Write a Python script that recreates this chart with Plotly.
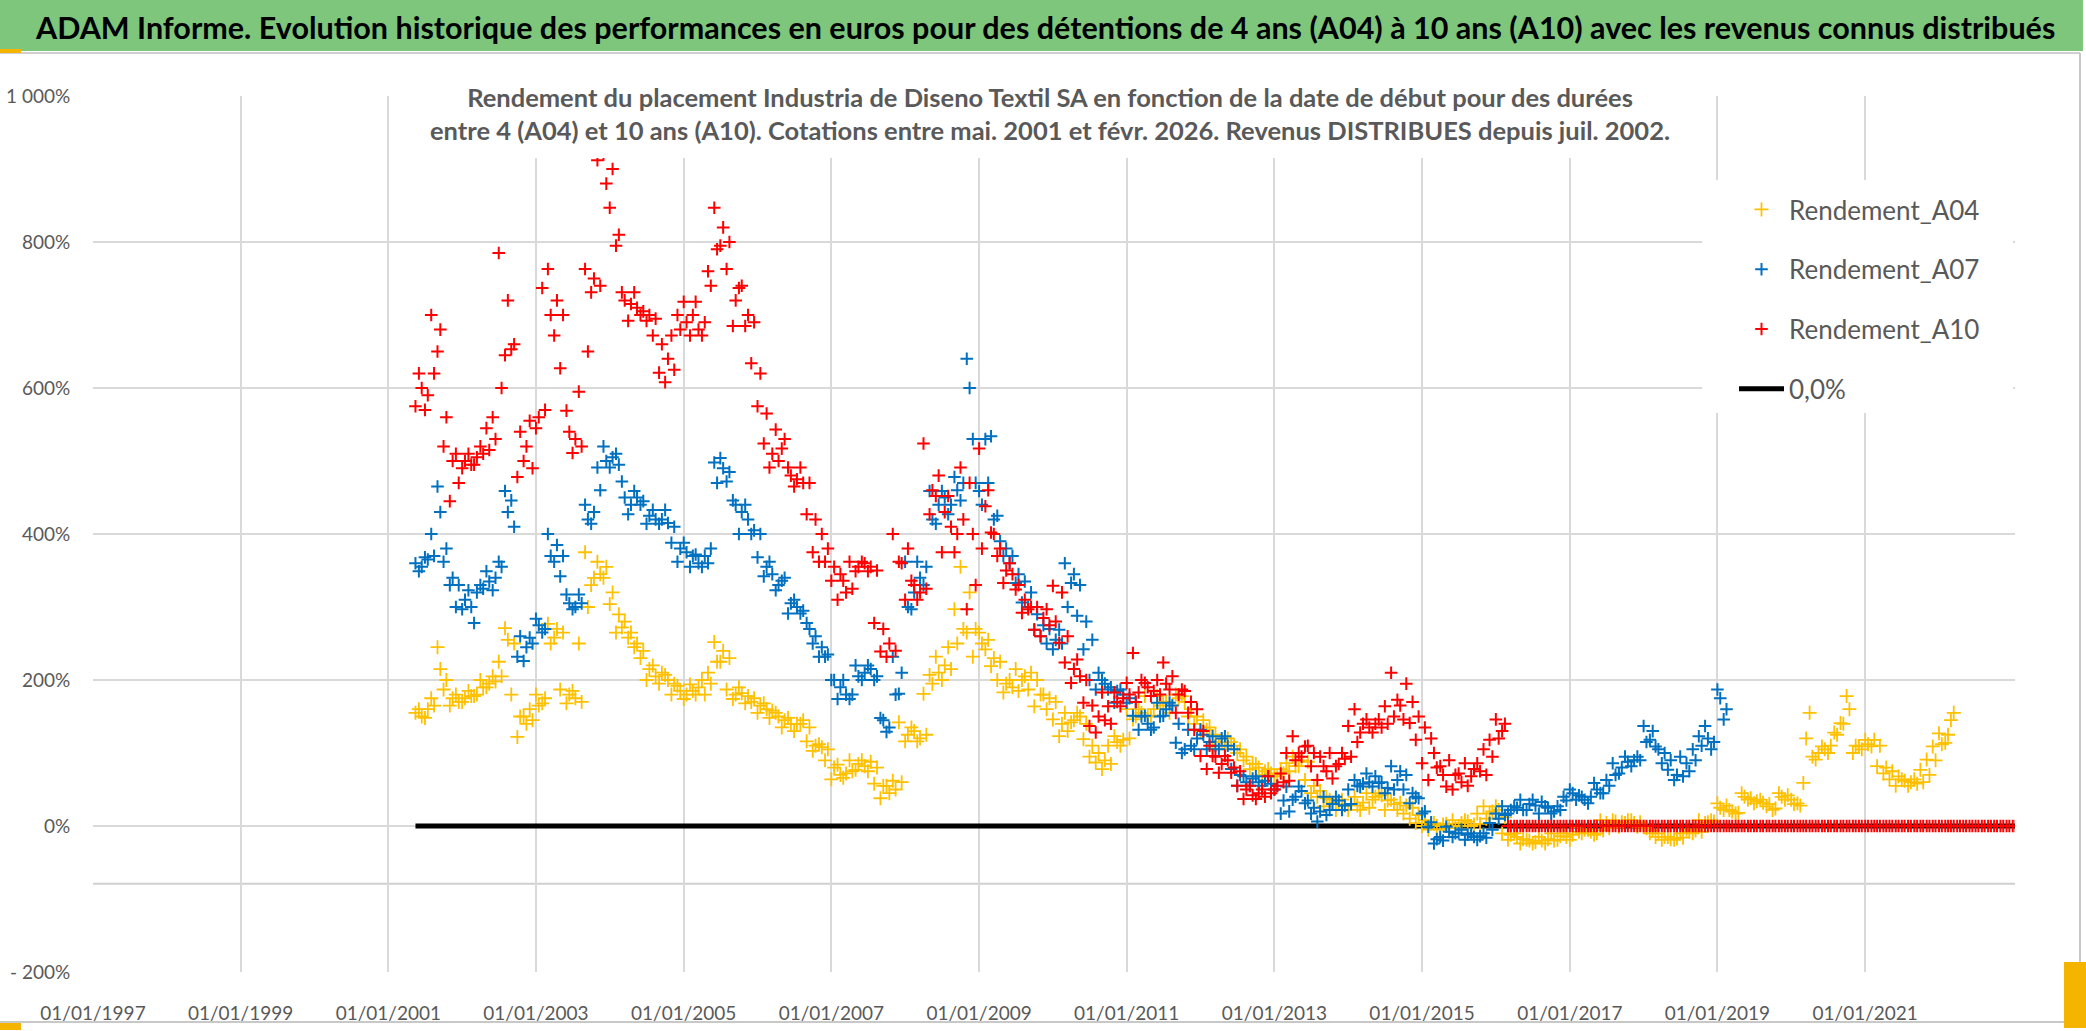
import plotly.graph_objects as go

# ---------------- data ----------------
# Main readings: mid-month values from May 2001.
START_YEAR, START_MONTH = 2001, 5

A04 = [
    155, 150, 160, 165, 215, 200, 175, 170,                      # 2001
    175, 178, 180, 190, 195, 198, 205, 255, 250, 150, 140, 145,  # 2002
    165, 175, 250, 270, 265, 180, 175, 170, 300, 340, 345, 355,  # 2003
    320, 290, 280, 265, 250, 240, 215, 205, 210, 200, 195, 185,  # 2004
    180, 185, 190, 180, 195, 225, 240, 230, 180, 182, 178, 175,  # 2005
    165, 160, 158, 150, 145, 140, 140, 145, 135, 110, 108, 105,  # 2006
    80, 70, 72, 75, 85, 82, 88, 80, 55, 45, 50, 60,              # 2007
    125, 130, 120, 125, 195, 210, 220, 215, 250, 270, 320, 270,  # 2008
    250, 255, 230, 225, 195, 190, 185, 205, 210, 200, 180, 175,  # 2009
    170, 140, 130, 145, 150, 140, 110, 100, 90, 85, 115, 118,    # 2010
    120, 150, 155, 150, 160, 165, 170, 165, 175, 170, 160, 150,  # 2011
    145, 135, 125, 115, 120, 110, 105, 95, 85, 80, 75, 72,       # 2012
    70, 72, 75, 82, 90, 88, 55, 48, 38, 32, 30, 28,              # 2013
    30, 28, 32, 25, 40, 42, 35, 30, 32, 28, 25, 15,              # 2014
    8, 3, 0, 2, -3, -2, 4, 6, 2, 3, 10, 20,                      # 2015
    22, 12, -12, -15, -18, -20, -22, -20, -18, -20, -14, -15,    # 2016
    -12, -8, -5, -8, -10, -6, -3, 6, 5, 8, 4, 5,                 # 2017
    -3, -6, -10, -15, -18, -17, -16, -8, -6, -8, 5, 6,           # 2018
    25, 28, 20, 18, 40, 38, 34, 32, 30, 24, 40, 42,              # 2019
    30, 28, 120, 95, 100, 105, 110, 125, 140, 160, 110, 105,     # 2020
    112, 118, 110, 80, 75, 68, 62, 60, 58, 60, 70, 90,           # 2021
    112, 125, 155,                                               # 2022
]

A07 = [
    360, 355, 365, 370, 430, 380, 340, 330,                      # 2001
    310, 300, 320, 325, 335, 340, 355, 430, 410, 260, 245, 250,  # 2002
    275, 270, 370, 385, 370, 305, 300, 305, 420, 430, 460, 500,  # 2003
    505, 495, 450, 440, 450, 445, 425, 420, 420, 415, 410, 380,  # 2004
    375, 370, 360, 370, 380, 470, 490, 485, 440, 430, 420, 405,  # 2005
    400, 355, 345, 330, 340, 305, 300, 295, 270, 260, 245, 235,  # 2006
    200, 190, 180, 180, 205, 210, 215, 205, 145, 135, 180, 210,  # 2007
    300, 320, 340, 355, 420, 440, 450, 440, 460, 470, 600, 470,  # 2008
    440, 470, 420, 390, 380, 370, 345, 335, 320, 290, 275, 270,  # 2009
    255, 250, 300, 345, 330, 280, 255, 210, 195, 190, 185, 180,  # 2010
    175, 170, 150, 140, 135, 150, 160, 165, 140, 105, 110, 120,  # 2011
    125, 115, 110, 120, 110, 105, 70, 60, 65, 60, 62, 58,        # 2012
    55, 35, 20, 40, 48, 35, 25, 20, 15, 30, 35, 28,              # 2013
    30, 55, 58, 60, 68, 60, 52, 50, 75, 70, 45, 38,              # 2014
    20, 5, -18, -20, -8, -10, -5, -12, -15, -14, -16, -5,        # 2015
    10, 15, 22, 25, 22, 30, 28, 33, 25, 20, 22, 35,              # 2016
    45, 42, 36, 40, 50, 45, 55, 70, 80, 88, 90, 90,              # 2017
    115, 130, 105, 100, 90, 70, 68, 75, 90, 110, 120, 115,       # 2018
    175, 160,                                                    # 2019
]

A10 = [
    575, 600, 590, 620, 680, 560, 500, 470,                      # 2001
    500, 495, 505, 510, 515, 530, 600, 720, 660, 540, 520, 490,  # 2002
    560, 570, 700, 720, 700, 540, 530, 520, 650, 750, 740, 880,  # 2003
    900, 810, 720, 715, 710, 705, 700, 695, 660, 640, 625, 680,  # 2004
    690, 700, 680, 690, 740, 790, 820, 800, 720, 740, 700, 690,  # 2005
    620, 565, 510, 500, 530, 480, 475, 470, 470, 420, 400, 380,  # 2006
    355, 345, 320, 325, 355, 360, 355, 350, 270, 250, 240, 360,  # 2007
    380, 330, 320, 325, 460, 480, 430, 410, 400, 420, 470, 330,  # 2008
    380, 460, 400, 380, 350, 345, 330, 310, 300, 300, 285, 275,  # 2009
    280, 320, 260, 215, 205, 200, 165, 150, 145, 140, 170, 175,  # 2010
    180, 170, 200, 190, 185, 180, 195, 205, 180, 185, 170, 160,  # 2011
    130, 110, 95, 85, 90, 80, 75, 50, 42, 45, 40, 45,            # 2012
    55, 60, 62, 90, 95, 110, 100, 95, 75, 65, 85, 92,            # 2013
    95, 115, 140, 135, 140, 135, 140, 150, 165, 195, 170, 150,   # 2014
    135, 120, 80, 70, 90, 70, 60, 55, 78, 75, 70, 95,            # 2015
    120, 140,                                                    # 2016
]
# after the 10-year window closes the series is plotted at 0 (Mar 2016 - Jan 2023)
A10_ZERO_TAIL = [0] * 83

# Second readings: band edges seen at the start of each month, from June 2001.
B_START_YEAR, B_START_MONTH = 2001, 6

A04_B = [
    160, 148, 175, 245, 187, 165, 180,                           # 2001
    170, 185, 178, 200, 190, 205, 225, 271, 180, 122, 150, 160,  # 2002
    180, 168, 277, 258, 187, 168, 185, 250, 375, 330, 362, 340,  # 2003
    304, 265, 272, 258, 245, 230, 200, 220, 195, 207, 180, 192,  # 2004
    174, 194, 180, 200, 210, 252, 225, 187, 174, 190, 168, 170,  # 2005
    155, 168, 148, 155, 135, 148, 130, 140, 116, 103, 112, 90,   # 2006
    64, 84, 66, 90, 77, 90, 75, 58, 38, 55, 62, 142,             # 2007
    116, 135, 116, 181, 207, 232, 200, 245, 297, 355, 265, 232,  # 2008
    265, 242, 219, 200, 183, 200, 215, 200, 187, 164, 180, 160,  # 2009
    146, 123, 155, 142, 155, 119, 95, 87, 78, 110, 123, 110,     # 2010
    160, 146, 160, 178, 151, 178, 170, 155, 180, 178, 150, 140,  # 2011
    130, 132, 105, 110, 105, 115, 100, 90, 78, 85, 70, 78,       # 2012
    68, 78, 86, 95, 82, 63, 45, 40, 27, 36, 22, 36,              # 2013
    22, 40, 22, 45, 36, 45, 22, 36, 22, 17, 10, 4,               # 2014
    0, -5, 4, -5, 3, 8, 0, 8, 0, 17, 27, 17,                     # 2015
    27, -10, -19, -10, -24, -19, -24, -15, -24, -10, -19, -10,   # 2016
    -19, -1, -10, -5, -12, 8, 4, 8, -1, 4, 8, -1,                # 2017
    -1, -10, -15, -19, -15, -19, -10, -5, -10, 8, 4, 8,          # 2018
    31, 22, 22, 17, 45, 36, 31, 36, 27, 22, 45, 36,              # 2019
    36, 31, 59, 155, 91, 109, 100, 128, 141, 178, 100, 109,      # 2020
    118, 109, 82, 72, 64, 55, 64, 55, 64, 77, 91, 109,           # 2021
    127, 114, 145,                                               # 2022
]

A07_B = [
    349, 368, 400, 465, 362, 330, 300,                           # 2001
    297, 323, 278, 330, 349, 323, 362, 459, 446, 232, 226, 258,  # 2002
    284, 265, 400, 362, 342, 317, 297, 317, 440, 414, 491, 520,  # 2003
    491, 510, 472, 427, 459, 440, 414, 433, 414, 433, 388, 362,  # 2004
    388, 355, 372, 355, 360, 498, 504, 472, 446, 400, 440, 400,  # 2005
    368, 342, 362, 323, 336, 291, 310, 291, 278, 250, 232, 232,  # 2006
    200, 174, 200, 174, 220, 200, 220, 200, 148, 129, 232, 181,  # 2007
    362, 297, 362, 330, 459, 414, 459, 427, 478, 446, 640, 530,  # 2008
    459, 530, 534, 425, 370, 360, 333, 306, 300, 269, 260, 250,  # 2009
    242, 269, 360, 333, 288, 242, 200, 187, 200, 187, 169, 187,  # 2010
    169, 151, 132, 151, 132, 169, 151, 169, 114, 100, 132, 105,  # 2011
    132, 105, 123, 105, 123, 78, 55, 68, 55, 68, 55, 68,         # 2012
    50, 17, 54, 36, 54, 31, 17, 6, 40, 22, 40, 22,               # 2013
    50, 63, 54, 72, 54, 59, 45, 82, 63, 50, 31, 40,              # 2014
    17, -1, -24, -15, -1, -15, -10, -19, -10, -19, -10, 4,       # 2015
    17, 27, 17, 27, 36, 22, 36, 17, 27, 17, 27, 40,              # 2016
    50, 36, 40, 31, 59, 45, 63, 86, 72, 95, 82, 95,              # 2017
    137, 118, 109, 86, 77, 63, 95, 86, 105, 123, 137, 105,       # 2018
    187, 146,                                                    # 2019
]

A10_B = [
    620, 570, 700, 650, 520, 445, 510,                           # 2001
    490, 510, 495, 520, 545, 560, 785, 645, 653, 478, 500, 555,  # 2002
    545, 737, 763, 672, 627, 569, 511, 595, 763, 731, 912, 920,  # 2003
    847, 795, 731, 692, 731, 700, 692, 672, 621, 608, 672, 700,  # 2004
    718, 672, 718, 672, 760, 847, 795, 763, 685, 737, 685, 634,  # 2005
    575, 524, 491, 543, 517, 491, 465, 491, 427, 375, 362, 362,  # 2006
    336, 310, 336, 362, 349, 362, 349, 278, 239, 232, 400, 362,  # 2007
    310, 336, 310, 524, 427, 452, 375, 452, 375, 491, 297, 400,  # 2008
    517, 438, 402, 370, 333, 360, 324, 292, 297, 269, 260, 297,  # 2009
    329, 251, 224, 196, 228, 169, 137, 128, 183, 164, 183, 164,  # 2010
    196, 237, 183, 196, 178, 200, 224, 187, 155, 187, 155, 132,  # 2011
    96, 78, 96, 73, 96, 73, 55, 37, 55, 37, 50, 68,              # 2012
    50, 72, 100, 123, 100, 109, 82, 63, 82, 100, 82, 100,        # 2013
    137, 160, 128, 146, 128, 146, 164, 210, 173, 146, 141, 118,  # 2014
    86, 63, 100, 82, 54, 50, 72, 86, 68, 86, 105, 118,           # 2015
    146, 130,                                                    # 2016
]
# zero tail readings at the start of each month (Mar 2016 - Jan 2023)
A10_B_ZERO_TAIL = [0] * 83

ZERO_LINE_DATES = ["2001-05-15", "2023-01-15"]
ZERO_LINE_VALUES = [0, 0]

X_TICK_DATES = ["1997-01-01", "1999-01-01", "2001-01-01", "2003-01-01", "2005-01-01",
                "2007-01-01", "2009-01-01", "2011-01-01", "2013-01-01", "2015-01-01",
                "2017-01-01", "2019-01-01", "2021-01-01"]
X_TICK_LABELS = ["01/01/1997", "01/01/1999", "01/01/2001", "01/01/2003", "01/01/2005",
                 "01/01/2007", "01/01/2009", "01/01/2011", "01/01/2013", "01/01/2015",
                 "01/01/2017", "01/01/2019", "01/01/2021"]
Y_TICKS = [-200, 0, 200, 400, 600, 800, 1000]
Y_TICK_LABELS = ["- 200%", "0%", "200%", "400%", "600%", "800%", "1 000%"]
X_RANGE = ["1997-01-01", "2023-01-12"]
Y_RANGE = [-200, 1000]
H_AXIS_CROSS = -79

TITLE = "ADAM Informe. Evolution historique des performances en euros pour des détentions de 4 ans (A04) à 10 ans (A10) avec les revenus connus distribués"
SUBTITLE = ("Rendement du placement Industria de Diseno Textil SA en fonction de la date de début pour des durées<br>"
            "entre 4 (A04) et 10 ans (A10). Cotations entre mai. 2001 et févr. 2026. Revenus DISTRIBUES depuis juil. 2002.")


def month_dates(n, year, month, day):
    out = []
    for _ in range(n):
        out.append(f"{year}-{month:02d}-{day:02d}")
        month += 1
        if month > 12:
            month = 1
            year += 1
    return out


# ---------------- geometry (pixels) ----------------
W, H = 2086, 1031
PL, PR, PT, PB = 93, 2015, 96, 972  # plot area


def px2x(px):
    return (px - PL) / (PR - PL)


def py2y(py):
    return (PB - py) / (PB - PT)


FONT = "Lato"
GREY = "#595959"
GRID = "#d9d9d9"

fig = go.Figure()

fig.add_trace(go.Scatter(
    x=ZERO_LINE_DATES, y=ZERO_LINE_VALUES, mode="lines", name="0,0%",
    line=dict(color="#000000", width=5), legendrank=4, legendgroup="d"))


def cross_trace(name, main, extra, color, rank, grp, size=9, lw=2):
    dates = (month_dates(len(main), START_YEAR, START_MONTH, 15)
             + month_dates(len(extra), B_START_YEAR, B_START_MONTH, 1))
    return go.Scatter(
        x=dates, y=list(main) + list(extra), mode="markers", name=name,
        legendrank=rank, legendgroup=grp,
        marker=dict(symbol="cross-thin", size=size, color=color,
                    line=dict(color=color, width=lw)))


fig.add_trace(cross_trace("Rendement_A04", A04, A04_B, "#FFC000", 1, "a", size=10, lw=1.8))
fig.add_trace(cross_trace("Rendement_A07", A07, A07_B, "#0070C0", 2, "b"))
fig.add_trace(cross_trace("Rendement_A10", A10 + A10_ZERO_TAIL, A10_B + A10_B_ZERO_TAIL, "#FF0000", 3, "c"))

shapes = [
    # title banner
    dict(type="rect", xref="paper", yref="paper", x0=px2x(0), x1=px2x(2083), y0=py2y(0), y1=py2y(51),
         fillcolor="#7dc67b", line=dict(width=0), layer="above"),
    dict(type="line", xref="paper", yref="paper", x0=px2x(0), x1=px2x(2080), y0=py2y(53), y1=py2y(53),
         line=dict(color="#d0d0d0", width=2), layer="above"),
    # chart frame
    dict(type="line", xref="paper", yref="paper", x0=px2x(2080), x1=px2x(2080), y0=py2y(53), y1=py2y(1022),
         line=dict(color="#c8c8c8", width=2), layer="above"),
    dict(type="line", xref="paper", yref="paper", x0=px2x(0), x1=px2x(2080), y0=py2y(1022), y1=py2y(1022),
         line=dict(color="#c8c8c8", width=2), layer="above"),
    # small yellow handles
    dict(type="rect", xref="paper", yref="paper", x0=px2x(0), x1=px2x(21), y0=py2y(49), y1=py2y(53),
         fillcolor="#f4b400", line=dict(width=0), layer="above"),
    dict(type="rect", xref="paper", yref="paper", x0=px2x(0), x1=px2x(21), y0=py2y(1023), y1=py2y(1030),
         fillcolor="#f4b400", line=dict(width=0), layer="above"),
    dict(type="rect", xref="paper", yref="paper", x0=px2x(2064), x1=px2x(2086), y0=py2y(962), y1=py2y(1028),
         fillcolor="#f4b400", line=dict(width=0), layer="above"),
    # horizontal axis line where the category axis crosses
    dict(type="line", xref="paper", yref="y", x0=0, x1=1, y0=H_AXIS_CROSS, y1=H_AXIS_CROSS,
         line=dict(color="#cfcfcf", width=2), layer="between"),
    # white box behind subtitle (covers grid and data)
    dict(type="rect", xref="paper", yref="paper", x0=px2x(426), x1=px2x(1680), y0=py2y(78), y1=py2y(158),
         fillcolor="white", line=dict(width=0), layer="above"),
    # white box behind legend
    dict(type="rect", xref="paper", yref="paper", x0=px2x(1702), x1=px2x(2013), y0=py2y(180), y1=py2y(413),
         fillcolor="white", line=dict(width=0), layer="above"),
]

annotations = [
    dict(xref="paper", yref="paper", x=px2x(1045), y=py2y(27), xanchor="center", yanchor="middle",
         text="<b>" + TITLE + "</b>", showarrow=False,
         font=dict(family=FONT, size=30.5, color="#000000")),
    dict(xref="paper", yref="paper", x=px2x(1050), y=py2y(114), xanchor="center", yanchor="middle",
         text="<b>" + SUBTITLE + "</b>", showarrow=False, align="center",
         font=dict(family=FONT, size=25.5, color=GREY)),
]

fig.update_layout(
    width=W, height=H, autosize=False,
    margin=dict(l=PL, r=W - PR, t=PT, b=H - PB, pad=0, autoexpand=False),
    paper_bgcolor="white", plot_bgcolor="white",
    showlegend=True,
    legend=dict(x=px2x(1734), y=py2y(186), xanchor="left", yanchor="top",
                bgcolor="rgba(0,0,0,0)", borderwidth=0,
                font=dict(family=FONT, size=26, color=GREY),
                tracegroupgap=23, itemwidth=45, traceorder="grouped"),
    shapes=shapes, annotations=annotations,
    xaxis=dict(type="date", range=X_RANGE, tickmode="array", tickvals=X_TICK_DATES, ticktext=X_TICK_LABELS,
               showgrid=True, gridcolor=GRID, gridwidth=1.5, zeroline=False, showline=False,
               automargin=False,
               ticks="outside", ticklen=24, tickcolor="rgba(0,0,0,0)",
               tickfont=dict(family=FONT, size=19, color=GREY)),
    yaxis=dict(range=Y_RANGE, tickmode="array", tickvals=Y_TICKS, ticktext=Y_TICK_LABELS,
               showgrid=True, gridcolor=GRID, gridwidth=1.5, zeroline=False, showline=False,
               automargin=False,
               ticks="outside", ticklen=18, tickcolor="rgba(0,0,0,0)",
               tickfont=dict(family=FONT, size=19, color=GREY)),
)

fig.write_html("out.html", config={"displayModeBar": False},
               post_script="document.body.style.margin='0';document.body.style.overflow='hidden';")
